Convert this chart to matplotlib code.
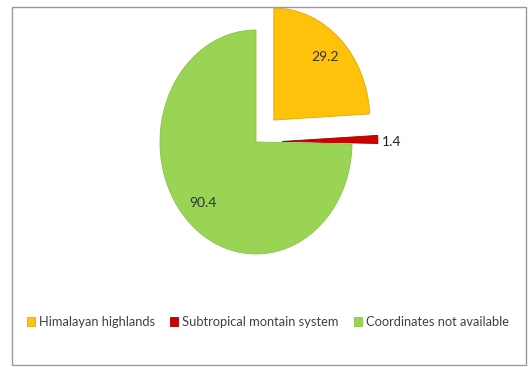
import matplotlib.pyplot as plt
import numpy as np
from matplotlib.patches import Rectangle

# Data
categories = ["Himalayan highlands", "Subtropical montain system", "Coordinates not available"]
values = [29.2, 1.4, 90.4]
value_labels = ["29.2", "1.4", "90.4"]
colors = ["#FFC20A", "#D00000", "#99D455"]
explode = [0.27, 0.27, 0.0]

plt.rcParams['font.family'] = ['Lato', 'DejaVu Sans']

W, H = 529, 367
fig = plt.figure(figsize=(W / 100, H / 100), dpi=100)

# axes placed so that pie centre lands near (256, 142) px, radius 96 x 112 px
left, right, top, bottom = 60, 452, 7, 290
ax = fig.add_axes([left / W, (H - bottom) / H, (right - left) / W, (bottom - top) / H])
wedges, _ = ax.pie(values, colors=colors, explode=explode, startangle=90,
                   counterclock=False,
                   wedgeprops=dict(linewidth=0.6, edgecolor="#e0e0e0"))
ax.set_aspect('auto')
cx, cy = 256, 142
ax.set_xlim(-(cx - left) / 96, (right - cx) / 96)
ax.set_ylim(-(bottom - cy) / 112, (cy - top) / 112)
for w in wedges:
    w.set_clip_on(False)

# shade edges slightly darker like the reference
edge_cols = ["#E0A800", "#A00000", "#88C448"]
for w, ec in zip(wedges, edge_cols):
    w.set_edgecolor(ec)

# value labels
for i, (w, txt) in enumerate(zip(wedges, value_labels)):
    mid = np.deg2rad((w.theta1 + w.theta2) / 2)
    x0, y0 = w.center
    if values[i] < 5:
        ax.text(x0 + w.r * 1.04 * np.cos(mid), y0 + w.r * 1.04 * np.sin(mid) - 0.02, txt,
                ha='left', va='center', fontsize=10, color='#222222')
    else:
        ax.text(x0 + w.r * 0.78 * np.cos(mid), y0 + w.r * 0.78 * np.sin(mid), txt,
                ha='center', va='center', fontsize=10, color='#333333')

# legend
leg = fig.legend(wedges, categories, loc='center', ncol=3,
                 bbox_to_anchor=(268 / W, (H - 322) / H),
                 frameon=False, fontsize=9.3, handlelength=0.6, handleheight=0.6,
                 handletextpad=0.3, columnspacing=1.2, labelcolor='#404040')

# chart border
fig.patches.append(Rectangle((12 / W, 2 / H), 514 / W, 358 / H, transform=fig.transFigure,
                             fill=False, edgecolor='#9a9a9a', linewidth=1.0))

fig.savefig("out.png", dpi=100)
